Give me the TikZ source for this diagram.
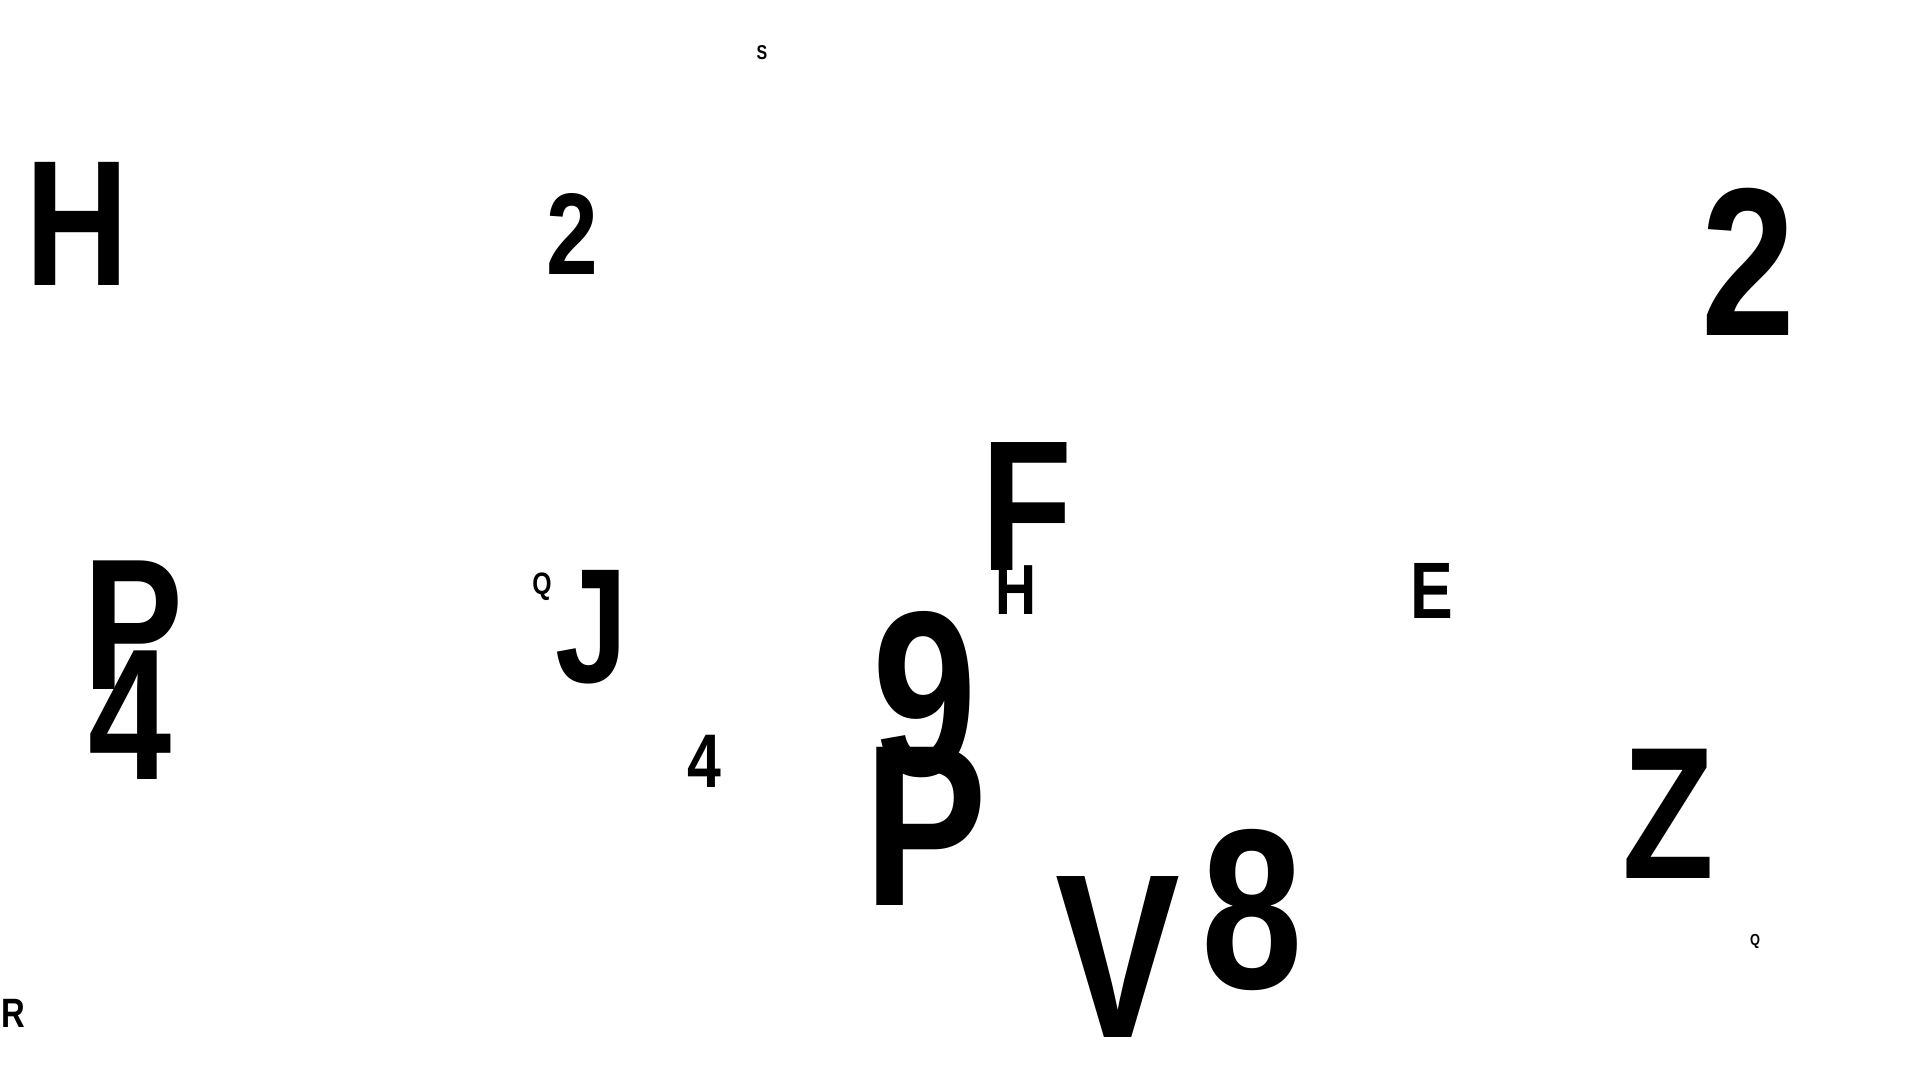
\documentclass[tikz,border=0pt]{standalone}
\usepackage{fontspec}
\usepackage{tikz}
\newfontfamily\lettfont{Liberation Sans}[FakeStretch=0.80]

\begin{document}
\begin{tikzpicture}[x=1pt,y=-1pt,
    glyph/.style={anchor=base,inner sep=0pt,font=\lettfont\bfseries\fontsize{#1}{#1}\selectfont}]
            %set diagram size: 1920 x 1080
            \fill[white] (0,0) rectangle (1920,1080);
            \useasboundingbox (0,0) rectangle (1920,1080);

            % Text Node
            \node (sTop) at (762,59) [glyph=20] {S};
            % Text Node
            \node (hBig) at (77,285) [glyph=179] {H};
            % Text Node
            \node (twoMid) at (572,274) [glyph=116] {2};
            % Text Node
            \node (twoBig) at (1748,335) [glyph=211] {2};
            % Text Node
            \node (fBig) at (1027,570) [glyph=186] {F};
            % Text Node
            \node (hSmall) at (1016,614) [glyph=71] {H};
            % Text Node
            \node (nine) at (925,775) [glyph=235] {9};
            % Text Node
            \node (pMid) at (926,905) [glyph=230] {P};
            % Text Node
            \node (fourSmall) at (704,787) [glyph=76] {4};
            % Text Node
            \node (pLeft) at (133,689) [glyph=187] {P};
            % Text Node
            \node (fourLeft) at (130,779) [glyph=187] {4};
            % Text Node
            \node (qSmall) at (542,594) [glyph=31] {Q};
            % Text Node
            \node (jMid) at (592,682) [glyph=163] {J};
            % Text Node
            \node (eRight) at (1432,618) [glyph=80] {E};
            % Text Node
            \node (zRight) at (1668,878) [glyph=188] {Z};
            % Text Node
            \node (qTiny) at (1755,945) [glyph=16] {Q};
            % Text Node
            \node (vBig) at (1118,1037) [glyph=234] {V};
            % Text Node
            \node (eight) at (1252,988) [glyph=228] {8};
            % Text Node
            \node (rLeft) at (13,1027) [glyph=41] {R};

\end{tikzpicture}
\end{document}
